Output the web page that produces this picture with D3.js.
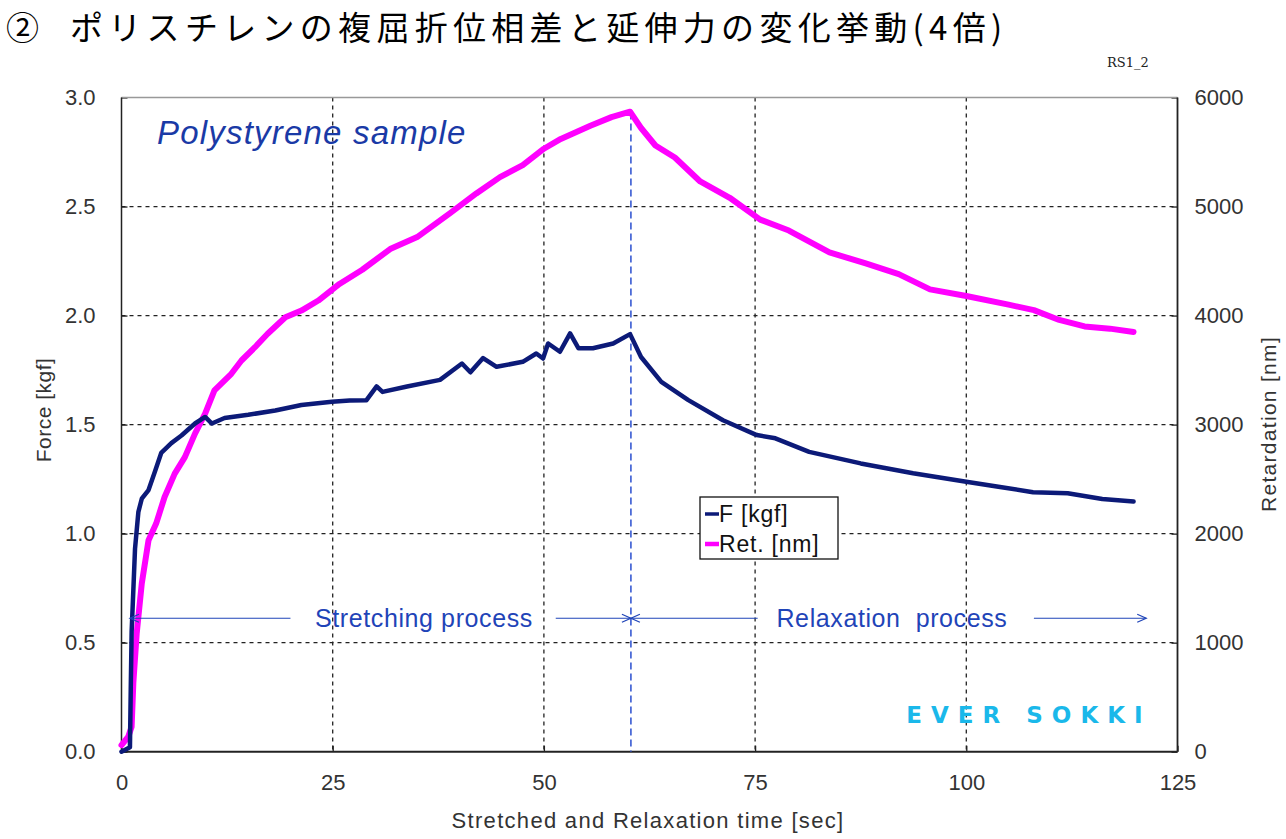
<!DOCTYPE html>
<html><head><meta charset="utf-8">
<script src="https://cdn.jsdelivr.net/npm/d3@7"></script>
<style>
html,body{margin:0;padding:0;background:#fff;}
svg{display:block;}
text{white-space:pre;}
</style></head>
<body>
<svg id="chart" width="1286" height="839"></svg>
<script>
// ---------- data ----------
const titleMark = "②";
const titleText = "ポリスチレンの複屈折位相差と延伸力の変化挙動(4倍)";
const xTicks = [0, 25, 50, 75, 100, 125];
const forceTicks = [0.0, 0.5, 1.0, 1.5, 2.0, 2.5, 3.0];
const retTicks = [0, 1000, 2000, 3000, 4000, 5000, 6000];

const forceTime = [0,0.5,1.0,1.1,1.2,1.4,1.6,2.0,2.4,3.2,4.0,4.7,5.9,7.1,8.7,9.9,10.7,12.2,15,18.2,21.3,24.9,27,29,30.2,30.9,33.8,37.7,40.3,41.3,42.8,44.4,47.5,49.1,49.9,50.5,51.9,53.1,54.1,55.8,58.2,60.2,61.5,63.9,67.1,71.2,75.2,77.4,81.4,87.5,93.7,100,103.8,107.9,112,116.1,119.8];
const forceKgf = [0,0.01,0.02,0.3,0.55,0.74,0.93,1.1,1.16,1.2,1.29,1.37,1.415,1.45,1.505,1.535,1.505,1.53,1.545,1.565,1.59,1.605,1.61,1.612,1.675,1.65,1.675,1.705,1.78,1.74,1.805,1.765,1.788,1.826,1.803,1.872,1.834,1.918,1.85,1.85,1.872,1.915,1.81,1.696,1.612,1.52,1.452,1.437,1.375,1.322,1.277,1.238,1.215,1.19,1.185,1.159,1.147];

const retTime = [0,0.8,1.2,1.4,1.8,2.4,3.2,4.1,5.1,6.3,7.5,8.7,9.9,11.0,13.0,14.2,15.8,17.3,19.4,21.3,23.3,25.8,28.5,31.8,35,38.9,42,44.8,47.5,50,52,55.5,58,60.2,61.5,63.2,65.5,68.5,72,75.6,79,83.8,88,92,95.7,100,105,108,111,114,117,119.8];
const retNm = [61,137,229,629,1085,1542,1940,2092,2336,2550,2702,2917,3100,3313,3466,3588,3710,3833,3985,4046,4138,4290,4420,4610,4720,4940,5120,5270,5380,5530,5620,5740,5820,5870,5720,5560,5450,5230,5080,4880,4780,4580,4480,4380,4240,4180,4100,4050,3960,3900,3880,3850];

const seriesNames = ["F [kgf]", "Ret. [nm]"];
const phaseLabels = ["Stretching process", "Relaxation  process"];
const phaseBoundary = 60.3;
const arrowLevel = 0.612;
// arrow segments [from, to] in seconds; arrowhead drawn at the 'to' end
const arrowSegs = [[20, 1.0], [51.4, 60.3], [75.3, 60.3], [108, 121.3]];
const phaseLabelX = [35.8, 91.2];

// ---------- layout ----------
const svg = d3.select("#chart");
const L = 121.5, R = 1177.5, T = 97.5, B = 751.7;
const x = d3.scaleLinear().domain([0,125]).range([L,R]);
const yF = d3.scaleLinear().domain([0,3]).range([B,T]);
const yR = d3.scaleLinear().domain([0,6000]).range([B,T]);
const tickFont = "'Liberation Sans', Arial, sans-serif";
const cjk = "'Noto Sans CJK JP', sans-serif";

// title
svg.append("text").attr("x", 6).attr("y", 39.5)
  .attr("font-family", cjk).attr("font-size", 33).attr("font-weight", 400)
  .attr("fill", "#000").text(titleMark);
svg.append("text").attr("x", 70).attr("y", 39.5)
  .attr("font-family", cjk).attr("font-size", 33).attr("font-weight", 400).attr("letter-spacing", 5.3)
  .attr("fill", "#000").text(titleText);
svg.append("text").attr("x", 1107).attr("y", 67)
  .attr("font-family", "'DejaVu Serif', 'Liberation Serif', serif").attr("font-size", 13).attr("fill", "#222").text("RS1_2");

// grid
const grid = svg.append("g").attr("stroke", "#222").attr("stroke-width", 1.3).attr("stroke-dasharray", "4,4");
xTicks.filter(d => d > 0 && d < 125).forEach(d => {
  grid.append("line").attr("x1", x(d)).attr("x2", x(d)).attr("y1", T).attr("y2", B);
});
forceTicks.filter(d => d > 0 && d < 3).forEach(d => {
  grid.append("line").attr("x1", L).attr("x2", R).attr("y1", yF(d)).attr("y2", yF(d));
});

// axes
const ax = svg.append("g");
const xAxis = ax.append("g").attr("transform", `translate(0,${B})`)
  .call(d3.axisBottom(x).tickValues(xTicks).tickSize(-6).tickPadding(23).tickFormat(d3.format("d")));
const yAxisL = ax.append("g").attr("transform", `translate(${L},0)`)
  .call(d3.axisLeft(yF).tickValues(forceTicks).tickSize(-6).tickPadding(26).tickFormat(d3.format(".1f")));
const yAxisR = ax.append("g").attr("transform", `translate(${R},0)`)
  .call(d3.axisRight(yR).tickValues(retTicks).tickSize(-6).tickPadding(17).tickFormat(d3.format("d")));
[xAxis, yAxisL, yAxisR].forEach(g => {
  g.select(".domain").remove();
  g.selectAll(".tick line").attr("stroke", "#222").attr("stroke-width", 1.3);
  g.selectAll(".tick text").attr("font-family", tickFont).attr("font-size", 22).attr("fill", "#333");
});
// frame
svg.append("line").attr("x1", L).attr("x2", R).attr("y1", T).attr("y2", T).attr("stroke", "#999").attr("stroke-width", 1.5);
svg.append("line").attr("x1", L).attr("x2", L).attr("y1", T).attr("y2", B).attr("stroke", "#222").attr("stroke-width", 1.5);
svg.append("line").attr("x1", R).attr("x2", R).attr("y1", T).attr("y2", B).attr("stroke", "#222").attr("stroke-width", 1.8);
svg.append("line").attr("x1", L).attr("x2", R).attr("y1", B).attr("y2", B).attr("stroke", "#222").attr("stroke-width", 2);

// axis titles
svg.append("text").attr("transform", `translate(51,410) rotate(-90)`).attr("text-anchor", "middle")
  .attr("font-family", tickFont).attr("font-size", 21).attr("letter-spacing", 0.5).attr("fill", "#333").text("Force [kgf]");
svg.append("text").attr("transform", `translate(1276,424) rotate(-90)`).attr("text-anchor", "middle")
  .attr("font-family", tickFont).attr("font-size", 21).attr("letter-spacing", 1.3).attr("fill", "#333").text("Retardation [nm]");
svg.append("text").attr("x", 648).attr("y", 828).attr("text-anchor", "middle")
  .attr("font-family", tickFont).attr("font-size", 22).attr("letter-spacing", 1.3).attr("fill", "#333").text("Stretched and Relaxation time [sec]");

// phase boundary
svg.append("line").attr("x1", x(phaseBoundary)).attr("x2", x(phaseBoundary)).attr("y1", T + 15).attr("y2", B)
  .attr("stroke", "#2a4fd0").attr("stroke-width", 1.5).attr("stroke-dasharray", "7,4");

// series
const lineF = d3.line().x((d,i) => x(forceTime[i])).y(d => yF(d));
const lineR = d3.line().x((d,i) => x(retTime[i])).y(d => yR(d));
svg.append("path").datum(retNm).attr("d", lineR).attr("fill", "none")
  .attr("stroke", "#ff00ff").attr("stroke-width", 6).attr("stroke-linejoin", "round").attr("stroke-linecap", "round");
svg.append("path").datum(forceKgf).attr("d", lineF).attr("fill", "none")
  .attr("stroke", "#0c1a78").attr("stroke-width", 4.5).attr("stroke-linejoin", "round").attr("stroke-linecap", "round");

// arrows
const arrowColor = "#1f44b8";
const ay = yF(arrowLevel);
arrowSegs.forEach(([a, b]) => {
  svg.append("line").attr("x1", x(a)).attr("x2", x(b)).attr("y1", ay).attr("y2", ay)
    .attr("stroke", arrowColor).attr("stroke-width", 1.2);
  const dir = b > a ? -1 : 1;
  svg.append("path").attr("d", `M${x(b) + dir*9},${ay-4} L${x(b)},${ay} L${x(b) + dir*9},${ay+4}`)
    .attr("fill", "none").attr("stroke", arrowColor).attr("stroke-width", 1.2);
});
phaseLabels.forEach((t, i) => {
  svg.append("text").attr("x", x(phaseLabelX[i])).attr("y", ay + 9).attr("text-anchor", "middle")
    .attr("font-family", tickFont).attr("font-size", 25).attr("letter-spacing", 0.6).attr("fill", "#1f44b8").text(t);
});

// sample label
svg.append("text").attr("x", 157).attr("y", 144)
  .attr("font-family", tickFont).attr("font-size", 33).attr("letter-spacing", 1.2).attr("font-style", "italic").attr("fill", "#1a3aa6")
  .text("Polystyrene sample");

// legend
const lg = svg.append("g").attr("transform", "translate(700,497)");
lg.append("rect").attr("width", 138).attr("height", 62).attr("fill", "#fff").attr("stroke", "#111").attr("stroke-width", 1.3);
const lgColors = ["#0c1a78", "#ff00ff"];
const lgWidths = [3.5, 4.5];
seriesNames.forEach((n, i) => {
  const yy = 17 + i * 30;
  lg.append("line").attr("x1", 5).attr("x2", 19).attr("y1", yy).attr("y2", yy)
    .attr("stroke", lgColors[i]).attr("stroke-width", lgWidths[i]);
  lg.append("text").attr("x", 19).attr("y", yy + 8).attr("font-family", tickFont)
    .attr("font-size", 23).attr("letter-spacing", 0.8).attr("fill", "#111").text(n);
});

// logo
svg.append("text").attr("x", 1029).attr("y", 723).attr("text-anchor", "middle")
  .attr("font-family", "'DejaVu Sans', sans-serif").attr("font-size", 23).attr("font-weight", "bold")
  .attr("letter-spacing", 9).attr("fill", "#1ab8ea").text("EVER SOKKI");
</script>
</body></html>
